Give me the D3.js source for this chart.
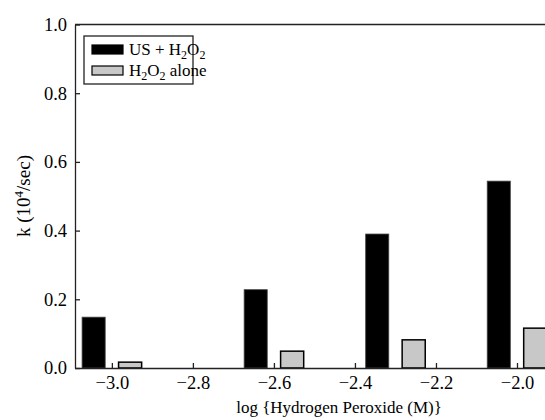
<!DOCTYPE html>
<html lang="en">
<head>
    <meta charset="UTF-8">
    <title>Rate constant vs hydrogen peroxide</title>
    <script src="https://d3js.org/d3.v7.min.js"></script>
    <style>
        body { margin: 0; background: #fff; }
        svg { display: block; font-family: "Liberation Serif", "Times New Roman", serif; }
        .axis text { font-family: "Liberation Serif", "Times New Roman", serif; font-size: 18.5px; fill: #000; }
        .axis path, .axis line { stroke: #222; stroke-width: 1.3; }
    </style>
</head>
<body>
    <svg id="chart" width="545" height="420"></svg>

    <script>
        // log10 of H2O2 concentration (M)
        const logConc = [-3.0, -2.6, -2.3, -2.0];
        // rate constants k (10^4/sec)
        const usH2O2 = [0.148, 0.228, 0.390, 0.544];
        const h2o2Alone = [0.017, 0.049, 0.082, 0.116];
        const xTicks = [-3.0, -2.8, -2.6, -2.4, -2.2, -2.0];
        const yTicks = [0.0, 0.2, 0.4, 0.6, 0.8, 1.0];

        const svg = d3.select("#chart");
        const plotLeft = 75, plotTop = 24.5, plotBottom = 368;

        // x is linear in log units; plot runs off the right edge
        const x = d3.scaleLinear().domain([-3.091, -2.0]).range([plotLeft, 517]);
        const y = d3.scaleLinear().domain([0, 1]).range([plotBottom, plotTop]);

        // bar geometry in data units
        const barW = 0.057, gap = 0.0165;

        // frame: top line only (right side is cut off)
        svg.append("line")
            .attr("x1", plotLeft).attr("x2", 545)
            .attr("y1", plotTop).attr("y2", plotTop)
            .attr("stroke", "#222").attr("stroke-width", 1.3);

        // black bars (US + H2O2)
        svg.selectAll(".bar-us")
            .data(logConc)
            .enter().append("rect")
            .attr("class", "bar-us")
            .attr("x", d => x(d - gap - barW))
            .attr("width", d => x(d - gap) - x(d - gap - barW))
            .attr("y", (d, i) => y(usH2O2[i]))
            .attr("height", (d, i) => plotBottom - y(usH2O2[i]))
            .attr("fill", "#000")
            .attr("stroke", "#444")
            .attr("stroke-width", 0.8);

        // gray bars (H2O2 alone)
        svg.selectAll(".bar-h2o2")
            .data(logConc)
            .enter().append("rect")
            .attr("class", "bar-h2o2")
            .attr("x", d => x(d + gap))
            .attr("width", d => x(d + gap + barW) - x(d + gap))
            .attr("y", (d, i) => y(h2o2Alone[i]))
            .attr("height", (d, i) => plotBottom - y(h2o2Alone[i]))
            .attr("fill", "#c8c8c8")
            .attr("stroke", "#000")
            .attr("stroke-width", 1.5);

        const fmt = v => d3.format(".1f")(v).replace("-", "\u2013");

        // x axis, ticks point inward
        const xAxis = svg.append("g")
            .attr("class", "axis")
            .attr("transform", `translate(0,${plotBottom})`)
            .call(d3.axisBottom(x).tickValues(xTicks).tickFormat(fmt)
                .tickSizeInner(-5).tickSizeOuter(0).tickPadding(8));
        xAxis.attr("font-family", null).attr("font-size", null);
        xAxis.select(".domain").attr("d", `M${plotLeft},0.5H545`);

        // y axis, ticks point inward
        const yAxis = svg.append("g")
            .attr("class", "axis")
            .attr("transform", `translate(${plotLeft},0)`)
            .call(d3.axisLeft(y).tickValues(yTicks).tickFormat(d3.format(".1f"))
                .tickSizeInner(-5).tickSizeOuter(0).tickPadding(8));
        yAxis.attr("font-family", null).attr("font-size", null);

        // axis titles
        svg.append("text")
            .attr("x", 339).attr("y", 413)
            .attr("text-anchor", "middle")
            .attr("font-size", 17)
            .attr("fill", "#000")
            .text("log {Hydrogen Peroxide (M)}");

        const yTitle = svg.append("text")
            .attr("transform", "translate(30,196) rotate(-90)")
            .attr("text-anchor", "middle")
            .attr("font-size", 19)
            .attr("fill", "#000");
        yTitle.append("tspan").text("k (10");
        yTitle.append("tspan").attr("font-size", 13).attr("dy", -7).text("4");
        yTitle.append("tspan").attr("dy", 7).text("/sec)");

        // legend
        const legend = svg.append("g").attr("transform", "translate(84,36)");
        legend.append("rect")
            .attr("width", 109).attr("height", 48)
            .attr("fill", "#fff").attr("stroke", "#222").attr("stroke-width", 1.3);

        const legendItems = [
            { fill: "#000", stroke: "#000", label: ["US + H", "2", "O", "2"] },
            { fill: "#c8c8c8", stroke: "#000", label: ["H", "2", "O", "2", " alone"] }
        ];
        legendItems.forEach((item, i) => {
            const row = legend.append("g").attr("transform", `translate(0,${9 + i * 21})`);
            row.append("rect")
                .attr("x", 8).attr("y", 0)
                .attr("width", 31).attr("height", 9)
                .attr("fill", item.fill).attr("stroke", item.stroke).attr("stroke-width", 1.2);
            const t = row.append("text")
                .attr("x", 45).attr("y", 10)
                .attr("font-size", 17).attr("fill", "#000");
            item.label.forEach((s, j) => {
                const sub = j % 2 === 1;
                t.append("tspan")
                    .attr("font-size", sub ? 12 : 17)
                    .attr("dy", j === 0 ? 0 : (sub ? 4 : -4))
                    .text(s);
            });
        });
    </script>
</body>
</html>
